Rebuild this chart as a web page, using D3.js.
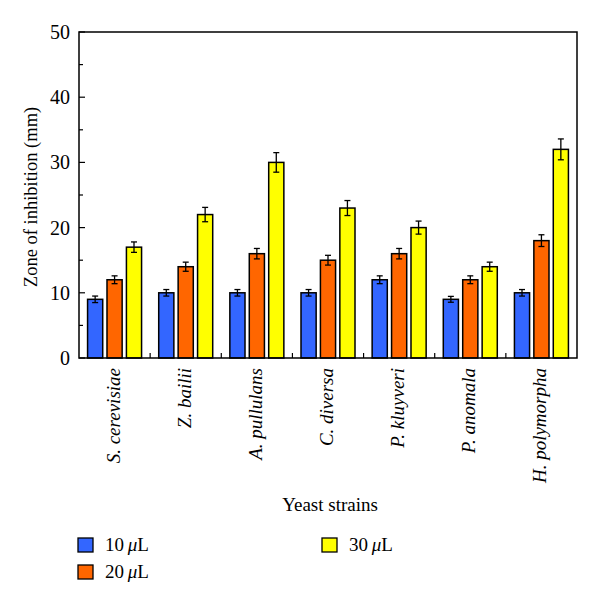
<!DOCTYPE html>
<html><head><meta charset="utf-8">
<script src="https://cdn.jsdelivr.net/npm/d3@7"></script>
<style>body{margin:0;background:#fff}svg{display:block}</style>
</head><body>
<script>
const categories = ["S. cerevisiae","Z. bailii","A. pullulans","C. diversa","P. kluyveri","P. anomala","H. polymorpha"];
const seriesNames = ["10","20","30"];
const v10 = [9,10,10,10,12,9,10];
const v20 = [12,14,16,15,16,12,18];
const v30 = [17,22,30,23,20,14,32];
const e10 = [0.5,0.5,0.5,0.5,0.6,0.45,0.5];
const e20 = [0.6,0.7,0.8,0.75,0.8,0.6,0.9];
const e30 = [0.8,1.1,1.5,1.15,1.0,0.7,1.6];
const yTicks = [0,10,20,30,40,50];
const colors = ["#3366ff","#ff6600","#ffff00"];

const W=600,H=602;
const svg=d3.select("body").append("svg").attr("width",W).attr("height",H);
const L=79,R=577,T=32,B=358;
const x=d3.scaleBand().domain(categories).range([L,R]).padding(0);
const y=d3.scaleLinear().domain([0,50]).range([B,T]);
const sub=d3.scaleBand().domain(seriesNames).range([0,54]).paddingInner(0.22);
const font="'Liberation Serif','Times New Roman',serif";
const vals=[v10,v20,v30], errs=[e10,e20,e30];

// bars
seriesNames.forEach((s,si)=>{
  const g=svg.append("g");
  categories.forEach((c,ci)=>{
    const x0=x(c)+x.bandwidth()/2-27+sub(s);
    g.append("rect").attr("x",x0).attr("y",y(vals[si][ci])).attr("width",sub.bandwidth())
     .attr("height",B-y(vals[si][ci])).attr("fill",colors[si]).attr("stroke","#000").attr("stroke-width",1.5);
    const cx=x0+sub.bandwidth()/2, hi=y(vals[si][ci]+errs[si][ci]), lo=y(vals[si][ci]-errs[si][ci]);
    g.append("line").attr("x1",cx).attr("x2",cx).attr("y1",hi).attr("y2",lo).attr("stroke","#000").attr("stroke-width",1.3);
    [hi,lo].forEach(yy=>g.append("line").attr("x1",cx-3).attr("x2",cx+3).attr("y1",yy).attr("y2",yy).attr("stroke","#000").attr("stroke-width",1.3));
  });
});

// frame
svg.append("rect").attr("x",L).attr("y",T).attr("width",R-L).attr("height",B-T).attr("fill","none").attr("stroke","#000").attr("stroke-width",1.5);

// y axis ticks (inside)
const yMinor=d3.range(0,51,5);
yMinor.forEach(t=>{
  const len = t%10===0?6:4;
  svg.append("line").attr("x1",L).attr("x2",L+len).attr("y1",y(t)).attr("y2",y(t)).attr("stroke","#000").attr("stroke-width",1.2);
});
svg.append("g").selectAll("text").data(yTicks).join("text")
  .attr("x",70).attr("y",d=>y(d)).attr("dy","0.35em").attr("text-anchor","end")
  .attr("font-family",font).attr("font-size",20).text(d=>d);

// x ticks between groups
categories.slice(1).forEach(c=>{
  svg.append("line").attr("x1",x(c)).attr("x2",x(c)).attr("y1",B).attr("y2",B-5).attr("stroke","#000").attr("stroke-width",1.2);
});

// x labels
svg.append("g").selectAll("text").data(categories).join("text")
  .attr("transform",d=>`translate(${x(d)+x.bandwidth()/2+5},368) rotate(-90)`)
  .attr("text-anchor","end").attr("font-family",font).attr("font-style","italic").attr("font-size",19).text(d=>d);

// axis titles
svg.append("text").attr("transform",`translate(37,${(T+B)/2+2}) rotate(-90)`).attr("text-anchor","middle")
  .attr("font-family",font).attr("font-size",18.5).text("Zone of inhibition (mm)");
svg.append("text").attr("x",(L+R)/2+2).attr("y",511).attr("text-anchor","middle")
  .attr("font-family",font).attr("font-size",19).text("Yeast strains");

// legend
const legPos=[[78,538],[78,565],[322,538]];
seriesNames.forEach((s,i)=>{
  const [lx,ly]=legPos[i];
  svg.append("rect").attr("x",lx).attr("y",ly).attr("width",15).attr("height",14).attr("fill",colors[i]).attr("stroke","#000").attr("stroke-width",1.3);
  const t=svg.append("text").attr("x",lx+27).attr("y",ly+13).attr("font-family",font).attr("font-size",19);
  t.append("tspan").text(s+"\u2009");
  t.append("tspan").attr("font-style","italic").text("\u03bc");
  t.append("tspan").text("L");
});
</script>
</body></html>
